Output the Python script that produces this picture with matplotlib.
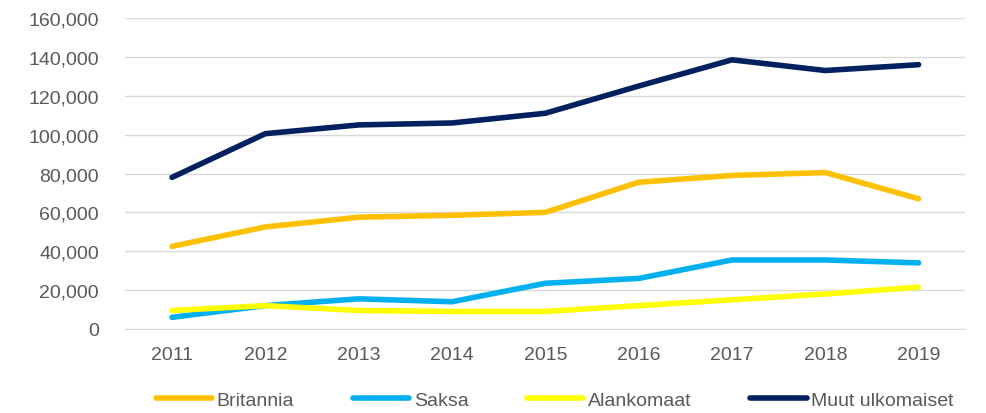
import matplotlib.pyplot as plt
from matplotlib.ticker import FuncFormatter

years = ["2011", "2012", "2013", "2014", "2015", "2016", "2017", "2018", "2019"]
britannia = [42500, 52500, 57500, 58500, 60000, 75500, 79000, 80500, 67000]
saksa = [6000, 12000, 15500, 14000, 23500, 26000, 35500, 35500, 34000]
alankomaat = [9500, 12000, 9500, 9000, 9000, 12000, 15000, 18000, 21500]
muut = [78000, 100500, 105000, 106000, 111000, 125000, 138500, 133000, 136000]

plt.rcParams['font.family'] = ['Liberation Sans', 'DejaVu Sans']

fig = plt.figure(figsize=(9.87, 4.14), dpi=100)
ax = fig.add_axes([0.127, 0.203, 0.851, 0.751])

x = range(len(years))
ax.plot(x, britannia, color="#FFC000", lw=4, label="Britannia", solid_capstyle="round")
ax.plot(x, saksa, color="#00B0F0", lw=4, label="Saksa", solid_capstyle="round")
ax.plot(x, alankomaat, color="#FFFF00", lw=4, label="Alankomaat", solid_capstyle="round")
ax.plot(x, muut, color="#002060", lw=4, label="Muut ulkomaiset", solid_capstyle="round")

ax.set_xlim(-0.5, len(years) - 0.5)
ax.set_ylim(0, 160000)
ax.set_yticks(range(0, 160001, 20000))
ax.yaxis.set_major_formatter(FuncFormatter(lambda v, p: f"{int(v):,}"))
ax.set_xticks(list(x))
ax.set_xticklabels(years)
ax.grid(axis="y", color="#D9D9D9", lw=1)
ax.set_axisbelow(True)
for s in ["top", "right", "left"]:
    ax.spines[s].set_visible(False)
ax.spines["bottom"].set_color("#D9D9D9")
ax.tick_params(length=0, labelsize=14, colors="#595959")
ax.tick_params(axis="y", pad=19)
ax.tick_params(axis="x", pad=12)

fig.legend(loc="center", bbox_to_anchor=(0.562, 0.031), ncol=4, frameon=False,
           fontsize=14, labelcolor="#595959", handlelength=2.9, columnspacing=3.0,
           handletextpad=0.25, borderaxespad=0, borderpad=0)

fig.savefig("out.png", dpi=100)
